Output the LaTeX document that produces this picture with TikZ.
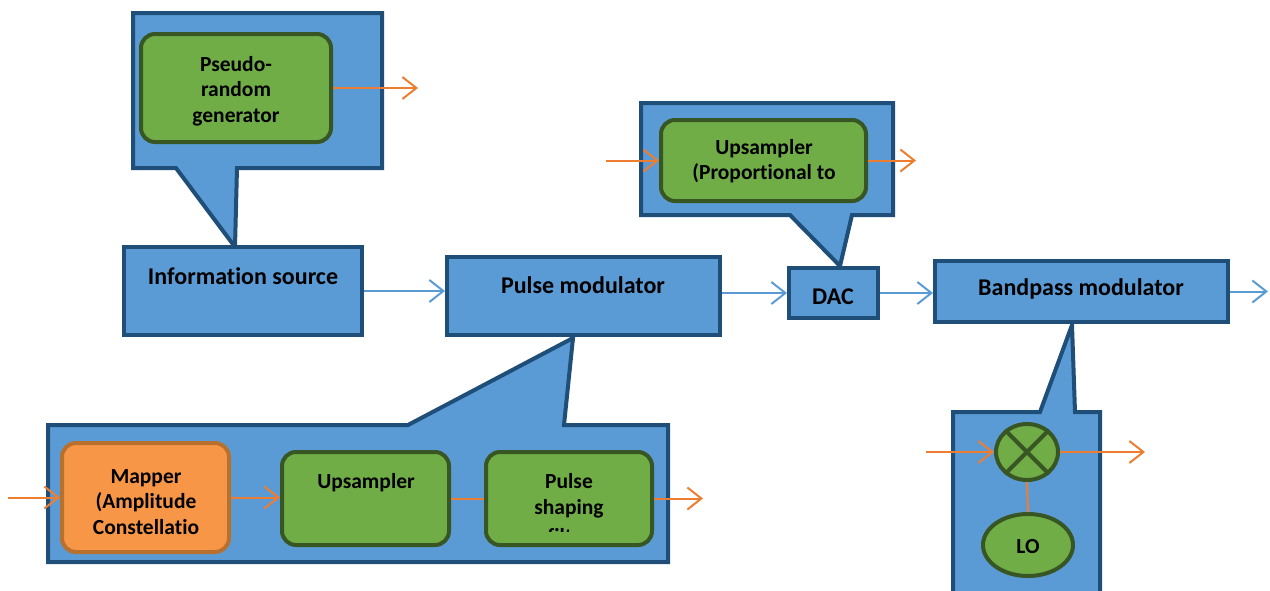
\documentclass[tikz,border=0pt]{standalone}
\usepackage{fontspec}
\setmainfont{Carlito}[Ligatures=NoCommon]
\usetikzlibrary{arrows.meta,shapes.geometric}
\definecolor{bfill}{HTML}{5B9BD5}
\definecolor{bdraw}{HTML}{1F4E79}
\definecolor{gfill}{HTML}{70AD47}
\definecolor{gdraw}{HTML}{375623}
\definecolor{ofill}{HTML}{F79646}
\definecolor{odraw}{HTML}{B8702F}
\definecolor{oline}{HTML}{ED7D31}
\begin{document}
\begin{tikzpicture}[x=1pt,y=-1pt,
  bbox/.style={draw=bdraw, fill=bfill, line width=4pt, rectangle, inner sep=0pt},
  callout/.style={draw=bdraw, fill=bfill, line width=4pt, line join=miter},
  gbox/.style={draw=gdraw, fill=gfill, line width=4pt, rectangle, rounded corners=14pt, inner sep=0pt},
  obox/.style={draw=odraw, fill=ofill, line width=4pt, rectangle, rounded corners=14pt, inner sep=0pt},
  gell/.style={draw=gdraw, fill=gfill, line width=4pt, ellipse, inner sep=0pt},
  txt/.style={font=\bfseries\fontsize{21.5}{25.5}\selectfont, align=center, inner sep=0pt},
  btxt/.style={font=\bfseries\fontsize{24}{28}\selectfont, align=center, inner sep=0pt},
  barrow/.style={draw=bfill, line width=2pt, -{Straight Barb[length=14pt,width=22pt]}},
  oarrow/.style={draw=oline, line width=2pt, -{Straight Barb[length=14pt,width=22pt]}},
  oline/.style={draw=oline, line width=2pt},
]
\clip (0,0) rectangle (1270,590);
\fill[white] (0,0) rectangle (1270,590);

% callouts
\draw[callout] (133,13) -- (382,13) -- (382,168) -- (237,168) -- (235,247) -- (176,168) -- (133,168) -- cycle;
\draw[callout] (641,103) -- (893,103) -- (893,215) -- (852,215) -- (840,266) -- (790,215) -- (641,215) -- cycle;
\draw[callout] (48,425) -- (408,425) -- (573,338) -- (564,425) -- (668,425) -- (668,562) -- (48,562) -- cycle;
\draw[callout] (953,412) -- (1040,412) -- (1072,325) -- (1075,412) -- (1100,412) -- (1100,610) -- (953,610) -- cycle;

% main boxes
\node[bbox, minimum width=238pt, minimum height=88pt] (info) at (243,291) {};
\node[bbox, minimum width=273pt, minimum height=78pt] (pulse) at (583.5,296) {};
\node[bbox, minimum width=89pt, minimum height=50pt] (dac) at (833.5,293) {};
\node[bbox, minimum width=293pt, minimum height=61pt] (bp) at (1081.5,291.5) {};
\node[btxt] (infot) at (243,276) {Information source};
\node[btxt] (pulset) at (583,285) {Pulse modulator};
\node[btxt] (dact) at (833,297) {DAC};
\node[btxt] (bpt) at (1081,289) {Bandpass modulator};

% inner blocks
\node[gbox, minimum width=190pt, minimum height=108pt] (prng) at (236,88) {};
\node[txt] (prngt) at (236,91) {Pseudo-\\random\\generator};
\node[gbox, minimum width=205pt, minimum height=81pt] (upt) at (763.5,160.5) {};
\node[txt] (uptt) at (764,161) {Upsampler\\(Proportional to};
\node[obox, minimum width=167pt, minimum height=109pt] (map) at (145.5,497.5) {};
\node[txt] (mapt) at (146,502) {Mapper\\(Amplitude\\Constellatio};
\node[gbox, minimum width=167pt, minimum height=93pt] (upb) at (365.5,498.5) {};
\node[txt] (upbt) at (366,483) {Upsampler};
\node[gbox, minimum width=166pt, minimum height=93pt] (psf) at (569,498.5) {};
\node[txt] (psft) at (569,496) {Pulse\\shaping};
\begin{scope}
\clip (486,452) rectangle (652,531);
\node[txt] (psff) at (569,536) {filter};
\end{scope}
\node[gell, minimum width=62pt, minimum height=56pt] (mix) at (1027,452) {};
\draw[draw=gdraw, line width=4pt] (mix.45) -- (mix.225) (mix.135) -- (mix.-45);
\node[gell, minimum width=90pt, minimum height=62pt] (lo) at (1028,545) {};
\node[txt] (lot) at (1028,547) {LO};

% blue connectors
\coordinate (bpout) at (1268,291.5);
\draw[barrow] (info.east) -- (info.east -| pulse.west);
\draw[barrow] (pulse.east |- dac.west) -- (dac.west);
\draw[barrow] (dac.east) -- (dac.east -| bp.west);
\draw[barrow] (bp.east) -- (bpout);

% orange connectors
\coordinate (prngout) at (418,88);
\coordinate (uptin) at (606,160.5);
\coordinate (uptout) at (916,160.5);
\coordinate (mapin) at (8,497.5);
\coordinate (psfout) at (703,498.5);
\coordinate (mixin) at (926,452);
\coordinate (mixout) at (1145,452);
\draw[oarrow] (prng.east) -- (prngout);
\draw[oarrow] (uptin) -- (upt.west);
\draw[oarrow] (upt.east) -- (uptout);
\draw[oarrow] (mapin) -- (map.west);
\draw[oarrow] (map.east) -- (map.east -| upb.west);
\draw[oline] (upb.east) -- (psf.west);
\draw[oarrow] (psf.east) -- (psfout);
\draw[oarrow] (mixin) -- (mix.west);
\draw[oarrow] (mix.east) -- (mixout);
\draw[oline] (mix.south) -- (lo.north);
\end{tikzpicture}
\end{document}
